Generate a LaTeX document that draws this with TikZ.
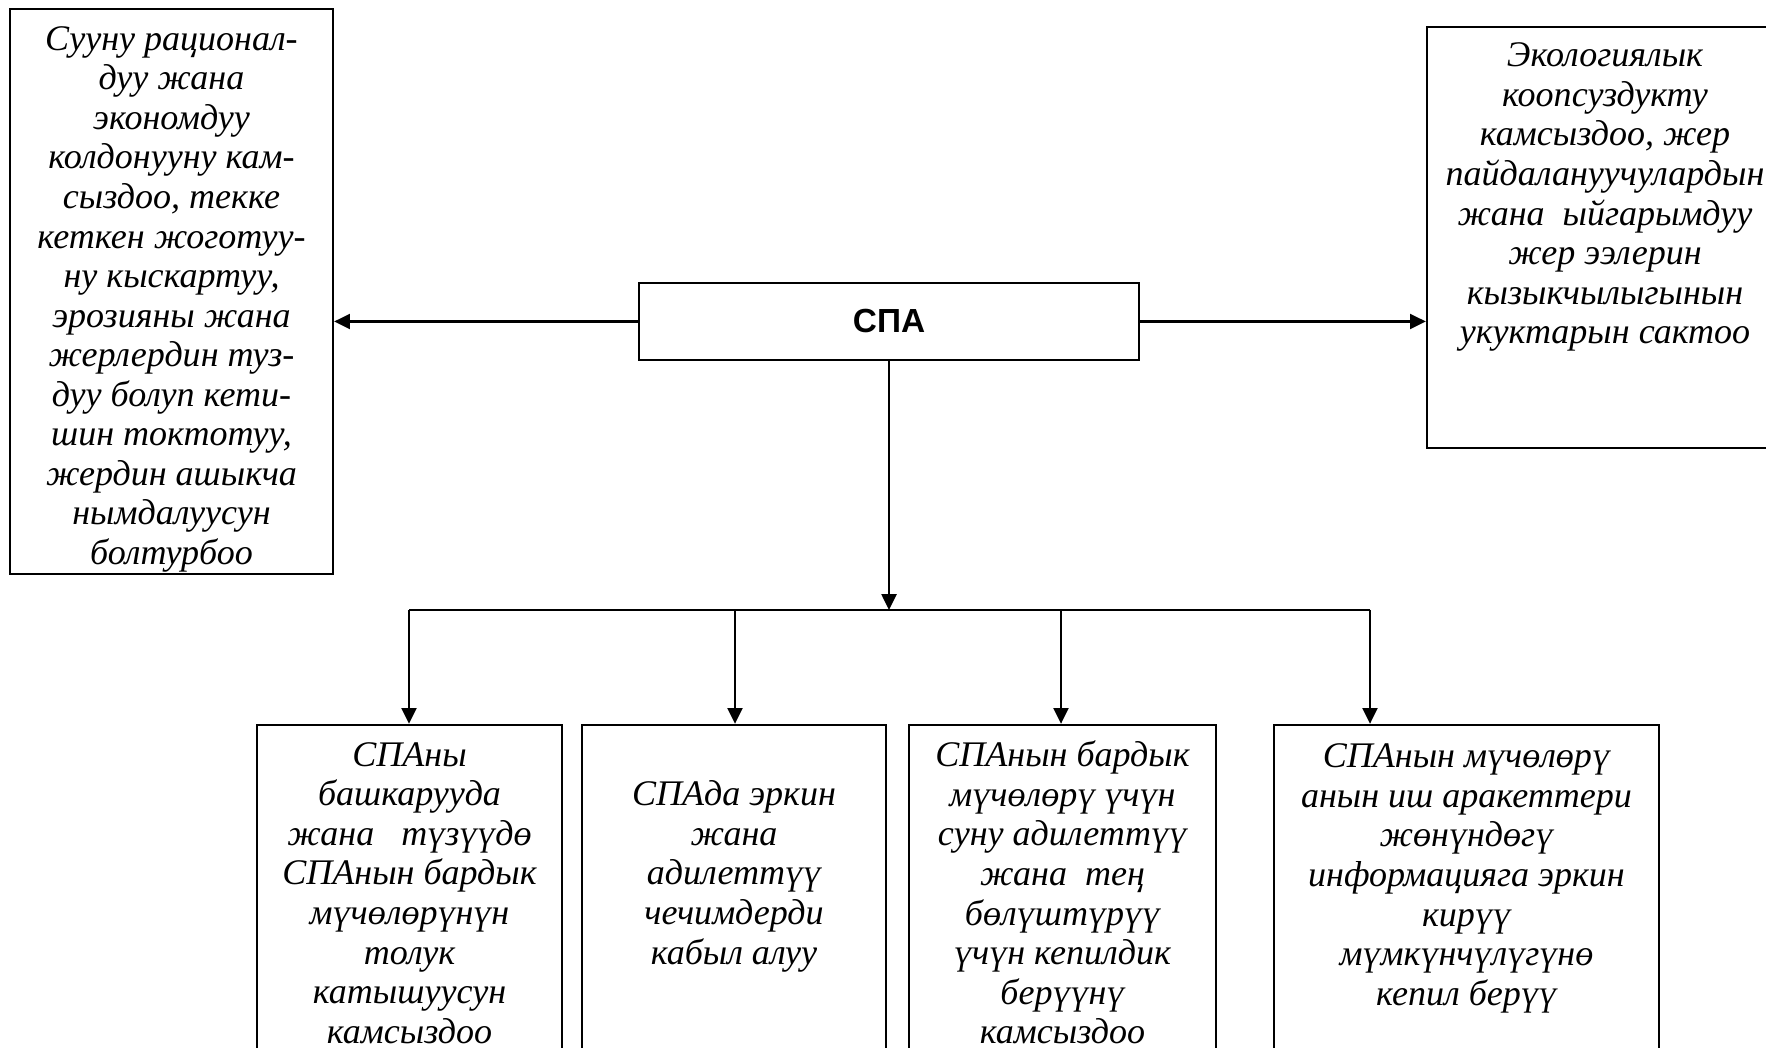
\documentclass[tikz,border=0pt]{standalone}
\usepackage{fontspec}
\setmainfont{Liberation Serif}
\newfontfamily\spafont{Liberation Sans}
\usepackage{tikz}
\usetikzlibrary{arrows.meta}
\usetikzlibrary{positioning}

\tikzset{
  box/.style={draw, line width=1.3pt, inner sep=0pt},
  txt/.style={align=center, inner sep=0pt, font=\fontsize{20.5}{22.5}\selectfont\itshape},
  wire/.style={line width=1.3pt},
  arr/.style={line width=1.3pt, -{Triangle[length=9pt,width=8.5pt]}}
}

\begin{document}
\begin{tikzpicture}
        \useasboundingbox (0,0) rectangle (35.32,20.96);

        % top row
        \node[box, minimum width=6.46cm, minimum height=11.30cm] (L) at (3.43,15.13) {};
        \node[box, minimum width=7.12cm, minimum height=8.42cm] (R) at (32.10,16.21) {};
        \node[box, minimum width=10.00cm, minimum height=1.54cm,
              font=\spafont\bfseries\fontsize{19}{22}\selectfont] (S) at (17.78,14.53) {СПА};

        % bottom row
        \node[box, minimum width=6.10cm, minimum height=6.9cm] (B1) at (8.19,3.01) {};
        \node[box, minimum width=6.08cm, minimum height=6.9cm] (B2) at (14.68,3.01) {};
        \node[box, minimum width=6.14cm, minimum height=6.9cm] (B3) at (21.25,3.01) {};
        \node[box, minimum width=7.70cm, minimum height=6.9cm] (B4) at (29.33,3.01) {};

        % texts
        \node[txt, below=0.29cm of L.north] (tL) {\strut Сууну рационал-\\дуу жана\\экономдуу\\колдонууну кам-\\сыздоо, текке\\кеткен жоготуу-\\ну кыскартуу,\\эрозияны жана\\жерлердин туз-\\дуу болуп кети-\\шин токтотуу,\\жердин ашыкча\\нымдалуусун\\болтурбоо};
        \node[txt, below=0.26cm of R.north] (tR) {\strut Экологиялык\\коопсуздукту\\камсыздоо, жер\\пайдалануучулардын\\жана\ \ ыйгарымдуу\\жер ээлерин\\кызыкчылыгынын\\укуктарын сактоо};
        \node[txt, below=0.29cm of B1.north] (t1) {\strut СПАны\\башкарууда\\жана\ \ \ түзүүдө\\СПАнын бардык\\мүчөлөрүнүн\\толук\\катышуусун\\камсыздоо};
        \node[txt, below=1.08cm of B2.north] (t2) {\strut СПАда эркин\\жана\\адилеттүү\\чечимдерди\\кабыл алуу};
        \node[txt, below=0.30cm of B3.north] (t3) {\strut СПАнын бардык\\мүчөлөрү үчүн\\суну адилеттүү\\жана\ \ тең\\бөлүштүрүү\\үчүн кепилдик\\берүүнү\\камсыздоо};
        \node[txt, below=0.32cm of B4.north] (t4) {\strut СПАнын мүчөлөрү\\анын иш аракеттери\\жөнүндөгү\\информацияга эркин\\кирүү\\мүмкүнчүлүгүнө\\кепил берүү};

        % connectors
        \draw[arr] (S.west) -- (S.west -| L.east);
        \draw[arr] (S.east) -- (S.east -| R.west);

        \coordinate (j1) at (8.18,8.76);
        \coordinate (j2) at (14.70,8.76);
        \coordinate (j3) at (21.22,8.76);
        \coordinate (j4) at (27.40,8.76);
        \coordinate (jc) at (S.south |- j1);
        \draw[arr] (S.south) -- (jc);
        \draw[wire] (j1) -- (j4);
        \foreach \j/\b in {j1/B1, j2/B2, j3/B3, j4/B4}
            \draw[arr] (\j) -- (\j |- \b.north);
\end{tikzpicture}
\end{document}
